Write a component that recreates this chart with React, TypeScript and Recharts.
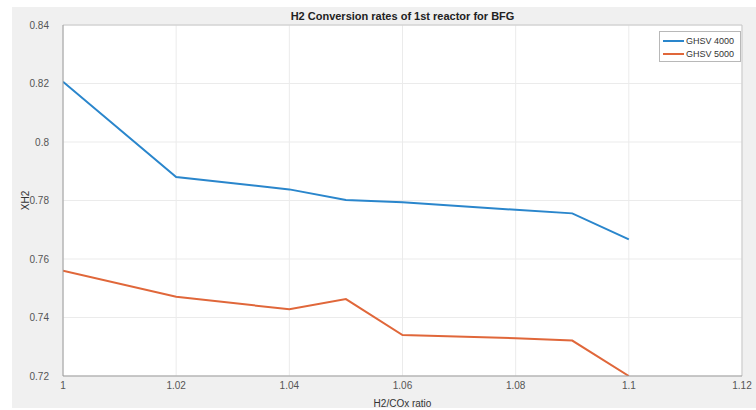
// H2 conversion rates chart (MATLAB-style figure) rebuilt with Recharts
import {
  CartesianGrid,
  Line,
  LineChart,
  ReferenceLine,
  XAxis,
  YAxis,
} from 'recharts';

const ratios = [1, 1.02, 1.04, 1.05, 1.06, 1.08, 1.09, 1.1];
const ghsv4000 = [0.8206, 0.788, 0.7838, 0.7802, 0.7794, 0.7768, 0.7756, 0.7667];
const ghsv5000 = [0.756, 0.7471, 0.7428, 0.7463, 0.734, 0.7329, 0.7321, 0.72];

const xTicks = [1, 1.02, 1.04, 1.06, 1.08, 1.1, 1.12];
const yTicks = [0.72, 0.74, 0.76, 0.78, 0.8, 0.82, 0.84];

const seriesNames = ['GHSV 4000', 'GHSV 5000'];
const BLUE = '#2a86cc';
const ORANGE = '#e0673a';
const FONT = '"Liberation Sans", Arial, Helvetica, sans-serif';

const data = ratios.map((r, i) => ({ x: r, a: ghsv4000[i], b: ghsv5000[i] }));

function fmt(v: number): string {
  // 0.80 -> "0.8", 1.10 -> "1.1"
  return String(Number(v.toFixed(2)));
}

function LegendBox() {
  const rows = [
    { name: seriesNames[0], color: BLUE },
    { name: seriesNames[1], color: ORANGE },
  ];
  return (
    <div
      style={{
        position: 'absolute',
        left: 659,
        top: 31,
        width: 82,
        border: '1px solid #b8b8b8',
        background: '#fff',
        padding: '2px 3px 1px 3px',
        fontFamily: FONT,
        fontSize: 9,
        color: '#333',
        boxSizing: 'border-box',
      }}
    >
      {rows.map((r) => (
        <div key={r.name} style={{ display: 'flex', alignItems: 'center', height: 13 }}>
          <span
            style={{ display: 'inline-block', width: 21, height: 2, background: r.color, marginRight: 2 }}
          />
          <span>{r.name}</span>
        </div>
      ))}
    </div>
  );
}

export default function App() {
  const tickStyle = { fontSize: 10, fill: '#555', fontFamily: FONT };
  return (
    <div style={{ position: 'absolute', left: 0, top: 0, width: 756, height: 410, background: '#fff' }}>
      <div
        style={{ position: 'absolute', left: 12, top: 7, width: 744, height: 401, background: '#f0f0f0' }}
      />
      <div
        style={{
          position: 'absolute',
          left: 63,
          width: 679,
          top: 10,
          textAlign: 'center',
          fontFamily: FONT,
          fontWeight: 'bold',
          fontSize: 11,
          color: '#222',
        }}
      >
        H2 Conversion rates of 1st reactor for BFG
      </div>
      <div style={{ position: 'absolute', left: 0, top: 0 }}>
        <LineChart width={756} height={410} data={data} margin={{ top: 25, right: 14, bottom: 0, left: 0 }}>
          <CartesianGrid stroke="#ebebeb" fill="#fff" />
          <XAxis
            dataKey="x"
            type="number"
            domain={[1, 1.12]}
            ticks={xTicks}
            tickFormatter={fmt}
            allowDataOverflow
            height={34}
            tickLine={false}
            tickSize={5}
            tickMargin={1}
            axisLine={{ stroke: '#9a9a9a' }}
            tick={tickStyle}
            label={{
              value: 'H2/COx ratio',
              position: 'insideBottom',
              offset: 3,
              style: { fontSize: 10, fill: '#333', fontFamily: FONT },
            }}
          />
          <YAxis
            type="number"
            domain={[0.72, 0.84]}
            ticks={yTicks}
            tickFormatter={fmt}
            allowDataOverflow
            width={63}
            tickLine={false}
            tickSize={6}
            tickMargin={8}
            axisLine={{ stroke: '#9a9a9a' }}
            tick={tickStyle}
            label={{
              value: 'XH2',
              angle: -90,
              position: 'insideLeft',
              offset: 25,
              style: { fontSize: 10, fill: '#333', fontFamily: FONT, textAnchor: 'middle' },
            }}
          />
          <ReferenceLine y={0.84} stroke="#c8c8c8" />
          <ReferenceLine x={1.12} stroke="#c8c8c8" />
          <Line
            type="linear"
            dataKey="a"
            name={seriesNames[0]}
            stroke={BLUE}
            strokeWidth={2}
            dot={false}
            isAnimationActive={false}
          />
          <Line
            type="linear"
            dataKey="b"
            name={seriesNames[1]}
            stroke={ORANGE}
            strokeWidth={2}
            dot={false}
            isAnimationActive={false}
          />
        </LineChart>
      </div>
      <LegendBox />
    </div>
  );
}
